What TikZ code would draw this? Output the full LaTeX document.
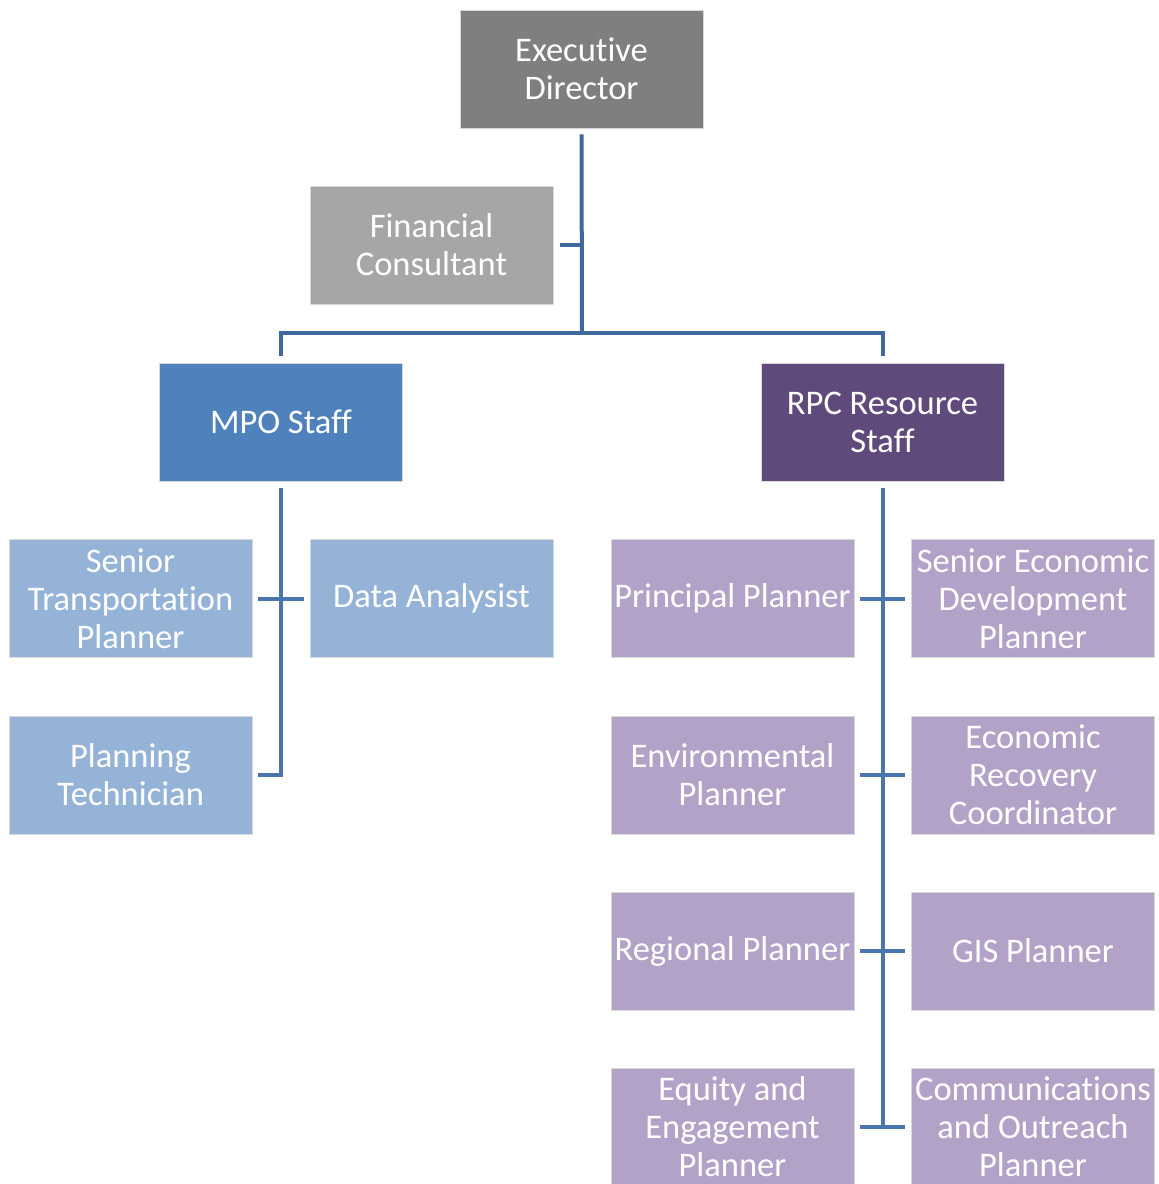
\documentclass[tikz,border=0pt]{standalone}
\usepackage{fontspec}
\setmainfont{Carlito}[Ligatures={NoCommon}]
\definecolor{cexec}{HTML}{7F7F7F}
\definecolor{cfin}{HTML}{A6A6A6}
\definecolor{cmpo}{HTML}{4F81BD}
\definecolor{crpc}{HTML}{604A7B}
\definecolor{clb}{HTML}{95B3D7}
\definecolor{clp}{HTML}{B3A2C7}
\definecolor{cline}{HTML}{41689E}
\definecolor{cline2}{HTML}{4A75AD}
\begin{document}
\begin{tikzpicture}[x=1pt,y=1pt,
  box/.style={draw=white!85!black, line width=0.8pt, minimum width=243pt, minimum height=118pt,
    inner sep=0pt, text=white, align=center, font=\fontsize{34.5}{38}\selectfont},
  conn/.style={draw=cline, line width=4pt},
  conn2/.style={draw=cline2, line width=4pt}]
\useasboundingbox (0,0) rectangle (1159,-1184);
\node[box, fill=cexec] (ed) at (581.5,-69) {Executive\\Director};
\node[box, fill=cfin] (fc) at (431.5,-245) {Financial\\Consultant};
\node[box, fill=cmpo] (mpo) at (281,-422) {MPO Staff};
\node[box, fill=crpc] (rpc) at (882.5,-422) {RPC Resource\\Staff};
\node[box, fill=clb] (stp) at (130.5,-598.5) {Senior\\Transportation\\Planner};
\node[box, fill=clb] (da) at (431.5,-598.5) {Data Analysist};
\node[box, fill=clb] (pt) at (130.5,-775) {Planning\\Technician};
\node[box, fill=clp] (pp) at (732.5,-598.5) {Principal Planner};
\node[box, fill=clp] (sedp) at (1033,-598.5) {Senior Economic\\Development\\Planner};
\node[box, fill=clp] (ep) at (732.5,-775) {Environmental\\Planner};
\node[box, fill=clp] (erc) at (1033,-775) {Economic\\Recovery\\Coordinator};
\node[box, fill=clp] (rp) at (732.5,-951) {Regional Planner};
\node[box, fill=clp] (gis) at (1033,-951) {GIS Planner};
\node[box, fill=clp] (eep) at (732.5,-1127) {Equity and\\Engagement\\Planner};
\node[box, fill=clp] (cop) at (1033,-1127) {Communications\\and Outreach\\Planner};
\coordinate (bus) at (582,-333);
% executive branch
\draw[conn] ([yshift=-6pt]ed.south) -- (bus);
\draw[conn] ([xshift=7pt]fc.east) -- (fc.east -| bus);
\draw[conn] ([yshift=7pt]mpo.north) |- (bus) -| ([yshift=7pt]rpc.north);
% MPO branch
\draw[conn2] ([yshift=-7pt]mpo.south) |- ([xshift=6pt]pt.east);
\draw[conn2] ([xshift=6pt]stp.east) -- ([xshift=-6pt]da.west);
% RPC branch
\draw[conn2] ([yshift=-7pt]rpc.south) -- (rpc.south |- eep.east);
\draw[conn2] ([xshift=6pt]pp.east) -- ([xshift=-6pt]sedp.west);
\draw[conn2] ([xshift=6pt]ep.east) -- ([xshift=-6pt]erc.west);
\draw[conn2] ([xshift=6pt]rp.east) -- ([xshift=-6pt]gis.west);
\draw[conn2] ([xshift=6pt]eep.east) -- ([xshift=-6pt]cop.west);
\end{tikzpicture}
\end{document}
